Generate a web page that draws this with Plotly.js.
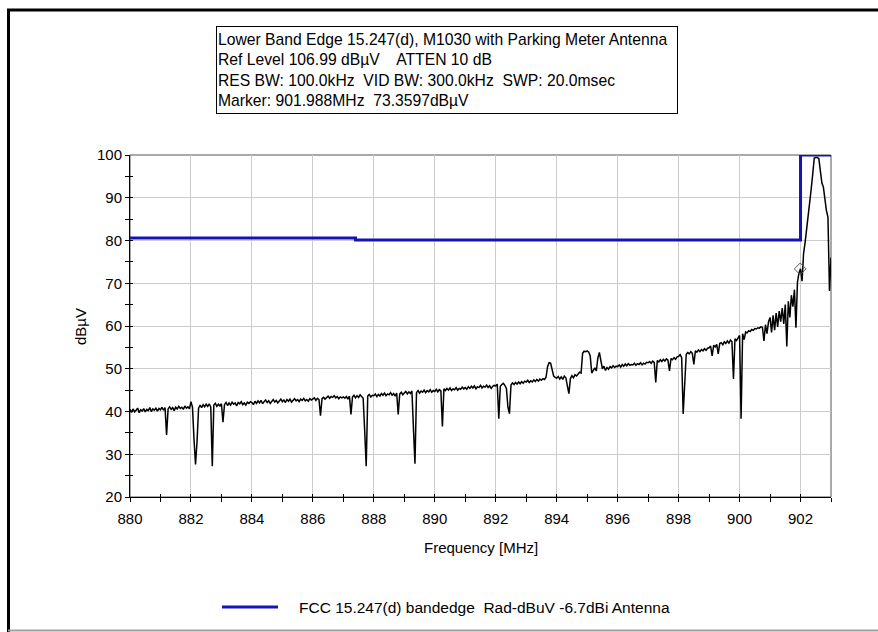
<!DOCTYPE html>
<html>
<head>
<meta charset="utf-8">
<script src="https://cdn.plot.ly/plotly-3.0.1.min.js"></script>
<style>
html,body{margin:0;padding:0;background:#fff;}
#chart{width:878px;height:632px;}
</style>
</head>
<body>
<div id="chart"></div>
<script>
// Sweep grid (spectrum analyzer points)
const sweepStartMHz = 880;
const sweepStepMHz = 0.05;

const level880 = [40.5, 39.8, 40.6, 39.9, 40.3, 40.8, 39.7, 40.4, 40.1, 40.7, 39.9, 40.5, 40.2, 40.9, 40.0, 40.6, 40.3, 40.8, 40.1, 40.7];
const level881 = [40.4, 41.0, 40.3, 40.9, 34.5, 40.6, 41.1, 40.5, 40.9, 40.2, 41.0, 40.6, 41.2, 40.7, 41.0, 40.5, 41.3, 40.8, 41.1, 40.6];
const level882 = [42.3, 41.0, 33.5, 27.6, 33.0, 40.8, 41.5, 40.9, 41.6, 41.1, 41.7, 41.2, 41.8, 41.0, 27.2, 41.5, 41.9, 41.2, 41.7, 41.3];
const level883 = [41.8, 37.5, 41.6, 42.1, 41.4, 42.0, 41.5, 42.2, 41.7, 42.0, 41.3, 42.1, 41.8, 42.3, 41.6, 42.0, 41.5, 42.2, 41.9, 42.3];
const level884 = [42.1, 41.6, 42.4, 41.9, 42.5, 42.0, 42.6, 41.8, 42.3, 42.7, 42.1, 42.5, 41.9, 42.4, 42.8, 42.2, 42.6, 42.0, 42.5, 42.9];
const level885 = [42.3, 42.7, 42.1, 42.8, 42.4, 42.9, 42.2, 42.6, 43.0, 42.5, 42.8, 42.3, 42.9, 42.6, 43.1, 42.5, 42.8, 42.4, 43.0, 42.7];
const level886 = [42.9, 43.2, 42.6, 43.1, 42.8, 39.0, 43.0, 43.3, 42.9, 43.4, 43.6, 43.1, 43.5, 43.3, 43.7, 43.2, 43.5, 43.0, 43.4, 43.2];
const level887 = [43.4, 43.1, 43.5, 42.9, 43.6, 39.3, 43.4, 43.8, 43.2, 43.7, 43.3, 43.9, 43.5, 43.1, 35.5, 27.2, 43.6, 44.0, 43.4, 43.8];
const level888 = [43.7, 44.1, 43.5, 44.0, 43.6, 44.2, 43.8, 44.3, 43.7, 44.1, 43.9, 44.4, 43.8, 44.2, 43.6, 44.3, 39.3, 44.1, 44.5, 43.9];
const level889 = [44.3, 44.7, 44.1, 44.6, 44.2, 44.8, 36.0, 27.8, 44.4, 44.9, 44.3, 44.8, 44.5, 45.0, 44.4, 44.9, 44.6, 45.1, 44.5, 44.9];
const level890 = [44.7, 45.2, 44.6, 45.1, 44.8, 36.5, 45.3, 44.9, 45.4, 45.0, 45.5, 44.9, 45.3, 45.1, 45.6, 45.0, 45.4, 45.2, 45.7, 45.3];
const level891 = [45.6, 45.2, 45.8, 45.4, 45.9, 45.5, 46.0, 45.3, 45.8, 45.6, 46.1, 45.5, 45.9, 45.7, 46.2, 45.6, 46.0, 45.4, 45.9, 46.1];
const level892 = [46.0, 46.4, 38.3, 45.9, 46.3, 46.6, 46.1, 45.4, 41.0, 39.5, 46.2, 46.7, 46.3, 46.8, 46.4, 46.9, 46.5, 47.0, 46.6, 47.1];
const level893 = [46.9, 47.3, 46.8, 47.2, 46.9, 47.4, 47.0, 47.5, 47.1, 47.6, 47.3, 47.7, 47.5, 48.0, 50.5, 51.4, 51.3, 49.5, 48.3, 48.0];
const level894 = [47.8, 48.2, 47.6, 48.1, 47.5, 48.3, 47.9, 46.0, 44.2, 47.7, 48.4, 47.9, 48.6, 48.3, 48.9, 49.2, 49.0, 53.6, 54.1, 54.0];
const level895 = [54.2, 53.9, 53.0, 49.0, 49.6, 50.2, 49.5, 52.5, 53.8, 51.5, 50.0, 50.6, 49.6, 50.3, 49.9, 50.5, 50.2, 50.7, 50.3, 50.6];
const level896 = [50.5, 50.9, 50.4, 51.0, 50.6, 51.1, 50.7, 51.2, 50.8, 51.0, 50.9, 51.3, 50.8, 51.2, 51.0, 51.4, 50.9, 51.3, 51.1, 51.5];
const level897 = [51.4, 51.7, 51.3, 51.8, 51.5, 46.8, 51.9, 51.6, 52.1, 51.7, 52.2, 51.8, 52.3, 52.0, 49.5, 52.4, 52.1, 52.6, 52.2, 52.8];
const level898 = [52.9, 53.3, 52.6, 39.4, 46.5, 53.4, 53.8, 53.5, 54.0, 53.6, 51.0, 54.2, 53.9, 54.4, 54.0, 54.5, 54.2, 54.7, 54.3, 54.8];
const level899 = [54.9, 55.3, 53.0, 55.5, 55.1, 55.7, 53.5, 55.9, 56.1, 55.6, 56.3, 55.9, 56.5, 56.0, 56.7, 56.3, 47.6, 57.0, 56.6, 57.4];
const level900 = [57.8, 38.3, 58.2, 56.8, 58.6, 58.4, 58.9, 58.7, 59.2, 59.0, 59.4, 59.3, 59.6, 59.5, 59.8, 59.7, 56.5, 60.3, 58.2, 61.0];
const level901 = [62.0, 58.5, 62.5, 59.0, 63.0, 59.8, 63.5, 61.0, 64.2, 60.5, 65.0, 55.2, 65.8, 62.0, 67.2, 64.5, 68.5, 59.6, 70.3, 72.4];
const level902 = [73.4, 70.5, 77.0, 79.5, 82.5, 85.0, 88.0, 92.0, 95.5, 99.3, 99.4, 99.4, 99.2, 96.0, 93.5, 92.5, 89.5, 87.0, 85.5, 68.2];
const level903 = [76.0];

// FCC 15.247(d) band-edge limit line
const limitFreq = [880, 887.4, 887.4, 902.0, 902.0, 903];
const limitLevel = [80.6, 80.6, 80.1, 80.1, 100, 100];

// Marker
const markerFreq = [901.988];
const markerLevel = [73.3597];

// Text
const headerLines = [
  "Lower Band Edge 15.247(d), M1030 with Parking Meter Antenna",
  "Ref Level 106.99 dBµV    ATTEN 10 dB",
  "RES BW: 100.0kHz  VID BW: 300.0kHz  SWP: 20.0msec",
  "Marker: 901.988MHz  73.3597dBµV"
];
const legendLabel = "FCC 15.247(d) bandedge  Rad-dBuV -6.7dBi Antenna";
const xTitle = "Frequency [MHz]";
const yTitle = "dBµV";

const levels = [].concat(level880, level881, level882, level883, level884, level885,
  level886, level887, level888, level889, level890, level891, level892, level893,
  level894, level895, level896, level897, level898, level899, level900, level901,
  level902, level903);
const freqs = levels.map((_, i) => +(sweepStartMHz + i * sweepStepMHz).toFixed(3));

const FONT = "Arial, 'Liberation Sans', sans-serif";
const limitColor = "#1414b4";

const W = 878, H = 632, ML = 130, MR = 47, MT = 155, MB = 135;
const PW = W - ML - MR, PH = H - MT - MB;
const px = x => (x - ML) / PW;
const py = y => (H - MB - y) / PH;

const traces = [
  {x: freqs, y: levels, type: "scatter", mode: "lines",
   line: {color: "#000000", width: 1.5}, showlegend: false, hoverinfo: "skip"},
  {x: limitFreq, y: limitLevel, type: "scatter", mode: "lines",
   line: {color: limitColor, width: 3}, name: legendLabel, showlegend: false, hoverinfo: "skip"},
  {x: markerFreq, y: markerLevel, type: "scatter", mode: "markers",
   marker: {symbol: "diamond-open", size: 9, color: "#555555", line: {width: 1}},
   showlegend: false, hoverinfo: "skip", cliponaxis: false},
  {x: [], y: [], xaxis: "x2", yaxis: "y2", type: "scatter", mode: "lines", showlegend: false, hoverinfo: "skip"}
];

const layout = {
  width: W, height: H,
  margin: {l: ML, r: MR, t: MT, b: MB},
  paper_bgcolor: "#ffffff", plot_bgcolor: "#ffffff",
  showlegend: false,
  font: {family: FONT, size: 15, color: "#000"},
  xaxis: {
    range: [880, 903], tick0: 880, dtick: 2, ticks: "outside", ticklen: 4, tickwidth: 1,
    tickcolor: "#000", showline: true, linecolor: "#000", linewidth: 1,
    showgrid: true, gridcolor: "#cccccc", gridwidth: 1, zeroline: false,
    tickfont: {family: FONT, size: 15, color: "#000"}, ticklabelstandoff: 4,
    minor: {dtick: 1, ticks: "outside", ticklen: 4, tickcolor: "#000", showgrid: false},
    fixedrange: true
  },
  yaxis: {
    range: [20, 100], tick0: 20, dtick: 10, ticks: "outside", ticklen: 4, tickwidth: 1,
    tickcolor: "#000", showline: true, linecolor: "#000", linewidth: 1,
    showgrid: true, gridcolor: "#cccccc", gridwidth: 1, zeroline: false,
    tickfont: {family: FONT, size: 15, color: "#000"},
    minor: {dtick: 5, ticks: "outside", ticklen: 4, tickcolor: "#000", showgrid: false},
    fixedrange: true
  },
  xaxis2: {
    overlaying: "x", anchor: "y2", range: [880, 903], tick0: 880, dtick: 1,
    ticks: "inside", ticklen: 3, tickcolor: "#000", showticklabels: false,
    showgrid: false, showline: false, zeroline: false, fixedrange: true
  },
  yaxis2: {
    overlaying: "y", anchor: "x2", range: [20, 100], tick0: 20, dtick: 5,
    ticks: "inside", ticklen: 3, tickcolor: "#000", showticklabels: false,
    showgrid: false, showline: false, zeroline: false, fixedrange: true
  },
  annotations: [
    {xref: "paper", yref: "paper", x: px(216), y: py(26), xanchor: "left", yanchor: "top",
     text: headerLines.join("<br>"), align: "left", showarrow: false,
     font: {family: FONT, size: 15.7, color: "#000"},
     bordercolor: "#000", borderwidth: 1, borderpad: 1, width: 458, height: 84, valign: "middle"},
    {xref: "paper", yref: "paper", x: px(481), y: py(547), xanchor: "center", yanchor: "middle",
     text: xTitle, showarrow: false, font: {family: FONT, size: 15, color: "#000"}},
    {xref: "paper", yref: "paper", x: px(80), y: py(327), xanchor: "center", yanchor: "middle",
     text: yTitle, textangle: -90, showarrow: false, font: {family: FONT, size: 15, color: "#000"}},
    {xref: "paper", yref: "paper", x: px(297), y: py(607), xanchor: "left", yanchor: "middle",
     text: legendLabel, showarrow: false, font: {family: FONT, size: 15.5, color: "#000"}}
  ],
  shapes: [
    {type: "rect", xref: "paper", yref: "paper", x0: 0, x1: 1, y0: 0, y1: 1,
     line: {color: "#555555", width: 1}, layer: "below"},
    {type: "line", xref: "paper", yref: "paper", x0: px(222), x1: px(278), y0: py(607), y1: py(607),
     line: {color: limitColor, width: 3}},
    {type: "line", xref: "paper", yref: "paper", x0: px(7), x1: px(878), y0: py(10), y1: py(10),
     line: {color: "#000", width: 3}},
    {type: "line", xref: "paper", yref: "paper", x0: px(8.5), x1: px(8.5), y0: py(9), y1: py(632),
     line: {color: "#000", width: 3}},
    {type: "line", xref: "paper", yref: "paper", x0: px(8), x1: px(878), y0: py(630.5), y1: py(630.5),
     line: {color: "#a0a0a0", width: 2}}
  ]
};

Plotly.newPlot("chart", traces, layout, {displayModeBar: false, staticPlot: true});
</script>
</body>
</html>
